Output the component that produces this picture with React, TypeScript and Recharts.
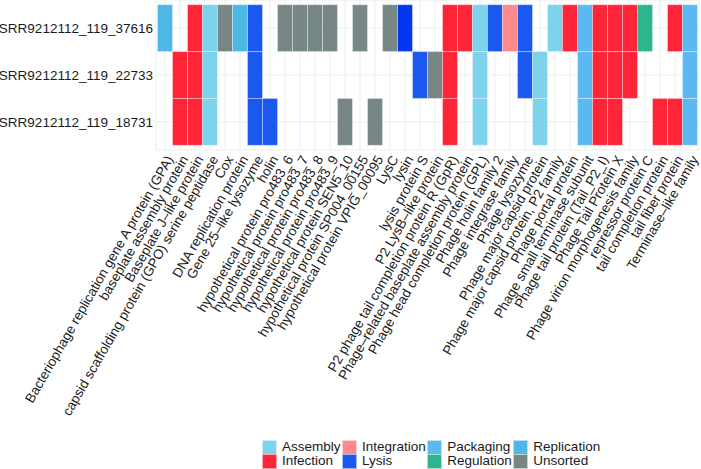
import { BarChart, Bar, XAxis, YAxis, CartesianGrid, Cell, Legend } from "recharts";

const proteins = [
  "Bacteriophage replication gene A protein (GPA)",
  "baseplate assembly protein",
  "Baseplate J\u2013like protein",
  "capsid scaffolding protein (GPO) serine peptidase",
  "Cox",
  "DNA replication protein",
  "Gene 25\u2013like lysozyme",
  "holin",
  "hypothetical protein pro483_6",
  "hypothetical protein pro483_7",
  "hypothetical protein pro483_8",
  "hypothetical protein pro483_9",
  "hypothetical protein SEN5_10",
  "hypothetical protein SP004_00155",
  "hypothetical protein VPIG_00095",
  "LysC",
  "lysin",
  "lysis protein S",
  "P2 LysB\u2013like protein",
  "P2 phage tail completion protein R (GpR)",
  "Phage\u2013related baseplate assembly protein",
  "Phage head completion protein (GPL)",
  "Phage holin family 2",
  "Phage integrase family",
  "Phage lysozyme",
  "Phage major capsid protein",
  "Phage major capsid protein, P2 family",
  "Phage portal protein",
  "Phage small terminase subunit",
  "Phage tail protein (Tail_P2_I)",
  "Phage Tail Protein X",
  "Phage virion morphogenesis family",
  "repressor protein C",
  "tail completion protein",
  "tail fiber protein",
  "Terminase\u2013like family",
];

const proteinCategory = [
  "Replication", "Infection", "Infection", "Assembly", "Unsorted", "Replication",
  "Lysis", "Lysis", "Unsorted", "Unsorted", "Unsorted", "Unsorted",
  "Unsorted", "Unsorted", "Unsorted", "Unsorted", "Lysis", "Lysis",
  "Unsorted", "Infection", "Infection", "Assembly", "Lysis", "Integration",
  "Lysis", "Assembly", "Assembly", "Infection", "Packaging", "Infection",
  "Infection", "Infection", "Regulation", "Infection", "Infection", "Packaging",
];

const genomes = ["SRR9212112_119_37616", "SRR9212112_119_22733", "SRR9212112_119_18731"];

// number of hits of each protein, one list per genome (same order as genomes)
const hits37616 = [1, 0, 1, 1, 1, 1, 1, 0, 1, 1, 1, 1, 0, 1, 0, 1, 2, 0, 0, 1, 1, 1, 1, 1, 1, 0, 1, 1, 1, 1, 1, 1, 1, 0, 1, 1];
const hits22733 = [0, 1, 1, 1, 0, 0, 1, 0, 0, 0, 0, 0, 0, 0, 0, 0, 0, 1, 1, 1, 0, 1, 0, 0, 1, 1, 0, 0, 1, 1, 1, 1, 0, 0, 0, 1];
const hits18731 = [0, 1, 1, 1, 0, 0, 1, 1, 0, 0, 0, 0, 1, 0, 1, 0, 0, 0, 0, 1, 0, 1, 0, 0, 0, 1, 0, 0, 1, 1, 1, 0, 0, 1, 1, 1];
const genomeHits = [hits37616, hits22733, hits18731];

const categories = ["Assembly", "Infection", "Integration", "Lysis", "Packaging", "Regulation", "Replication", "Unsorted"];
const categoryColors: Record<string, string> = {
  Assembly: "#7DD3EC",
  Infection: "#FF2539",
  Integration: "#FF8A8B",
  Lysis: "#1A58F0",
  Packaging: "#5BB8F0",
  Regulation: "#2EB48F",
  Replication: "#4DB7E5",
  Unsorted: "#778786",
};
const doubleHitColor: Record<string, string> = { Lysis: "#0537F0" };

const FONT = "'Liberation Sans', Arial, Helvetica, sans-serif";
const FS = 13.5;
const INK = "#1a1a1a";

const tableData = proteins.map((name) => ({ name, g0: 1, g1: 1, g2: 1 }));

const cellFill = (g: number, i: number) => {
  const n = genomeHits[g][i];
  if (!n) return "transparent";
  const cat = proteinCategory[i];
  if (n > 1 && doubleHitColor[cat]) return doubleHitColor[cat];
  return categoryColors[cat];
};

const ProteinTick = (props: any) => {
  const { x, y, payload } = props;
  return (
    <text
      transform={`translate(${x},${y + 2}) rotate(-60)`}
      textAnchor="end"
      dy="0.75em"
      fontSize={FS}
      fontFamily={FONT}
      fill={INK}
    >
      {payload.value}
    </text>
  );
};

const LegendBox = () => {
  const cols: string[][] = [];
  for (let i = 0; i < categories.length; i += 2) cols.push(categories.slice(i, i + 2));
  return (
    <div style={{ display: "flex", fontFamily: FONT, fontSize: FS, color: INK }}>
      {cols.map((col, ci) => (
        <div key={ci} style={{ display: "flex", flexDirection: "column", marginRight: 1.5 }}>
          {col.map((c) => (
            <div key={c} style={{ display: "flex", alignItems: "center", height: 14 }}>
              <div
                style={{
                  width: 13,
                  height: 13,
                  background: categoryColors[c],
                  border: "0.5px solid rgba(255,255,255,0.6)",
                  marginRight: 5,
                }}
              />
              <span style={{ lineHeight: "14px" }}>{c}</span>
            </div>
          ))}
        </div>
      ))}
    </div>
  );
};

export default function App() {
  const stackOrder = [2, 1, 0]; // bottom row first
  return (
    <div style={{ position: "absolute", left: 0, top: 0, background: "#fff" }}>
      <BarChart
        width={701}
        height={469}
        data={tableData}
        margin={{ top: 0, right: 2, bottom: 36, left: 0 }}
        barCategoryGap={0}
        barGap={0}
      >
        <CartesianGrid stroke="#EBEDED" strokeWidth={1} />
        <XAxis
          dataKey="name"
          type="category"
          interval={0}
          height={283}
          tickLine={false}
          axisLine={false}
          tickSize={0}
          tick={<ProteinTick />}
          padding={{ left: 1.5, right: 1.5 }}
        />
        <YAxis
          type="number"
          domain={[-0.1, 3.1]}
          ticks={[0.5, 1.5, 2.5]}
          width={156}
          tickLine={false}
          axisLine={false}
          tickSize={0}
          tickMargin={3}
          tickFormatter={(v: number) => genomes[2 - Math.floor(v)]}
          tick={{ fontSize: FS, fontFamily: FONT, fill: INK }}
          allowDataOverflow
        />
        {stackOrder.map((g) => (
          <Bar key={g} dataKey={`g${g}`} stackId="tiles" isAnimationActive={false}>
            {tableData.map((d, i) => (
              <Cell
                key={d.name}
                fill={cellFill(g, i)}
                stroke={genomeHits[g][i] ? "rgba(255,255,255,0.35)" : "none"}
                strokeWidth={1}
              />
            ))}
          </Bar>
        ))}
        <Legend
          layout="horizontal"
          verticalAlign="middle"
          align="center"
          wrapperStyle={{ top: 440, left: 262, width: "auto" }}
          content={<LegendBox />}
        />
      </BarChart>
    </div>
  );
}
